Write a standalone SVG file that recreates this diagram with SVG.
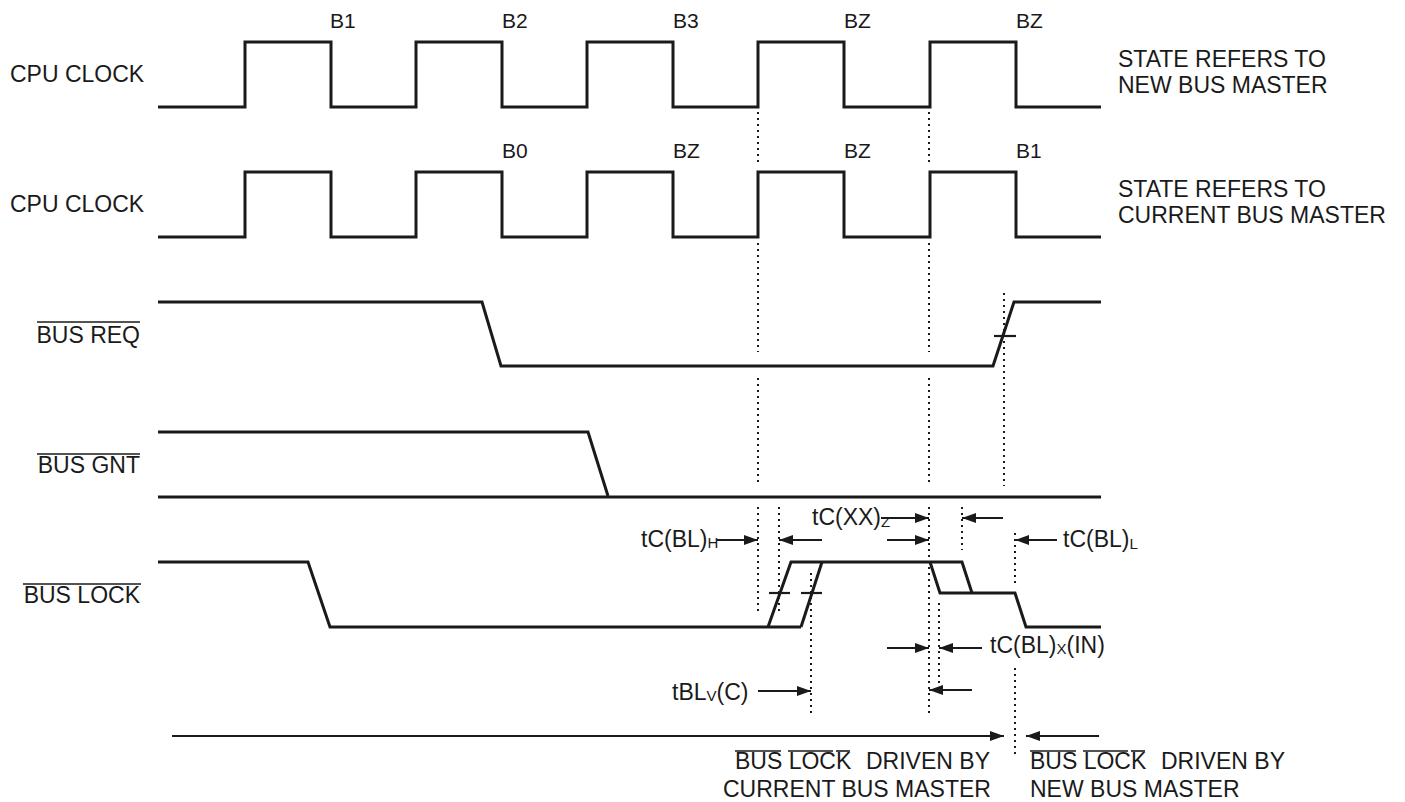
<svg xmlns="http://www.w3.org/2000/svg" width="1405" height="802" viewBox="0 0 1405 802">
<style>
text{font-family:"Liberation Sans",Arial,sans-serif;fill:#1a1a1a}
.lbl{font-size:23px}
.st{font-size:21px}
.sub{font-size:15px}
.sig{fill:none;stroke:#1a1a1a;stroke-width:3;stroke-linejoin:miter}
.dot{fill:none;stroke:#1a1a1a;stroke-width:2;stroke-dasharray:2 4}
.arr{fill:none;stroke:#1a1a1a;stroke-width:2;marker-end:url(#ah)}
.ov{stroke:#1a1a1a;stroke-width:1.6}
.tick{stroke:#1a1a1a;stroke-width:2.2}
</style>
<defs>
<marker id="ah" markerUnits="userSpaceOnUse" markerWidth="15" markerHeight="10" refX="14" refY="5" orient="auto">
<path d="M0,0 L14,5 L0,10 z" fill="#1a1a1a"/>
</marker>
</defs>
<rect width="1405" height="802" fill="#ffffff"/>

<g id="clock1">
<text class="lbl" x="10" y="82">CPU CLOCK</text>
<path class="sig" d="M158,107 H245 V42 H331 V107 H416 V42 H502 V107 H587 V42 H673 V107 H758 V42 H844 V107 H930 V42 H1016 V107 H1101"/>
<text class="st" x="330" y="28">B1</text>
<text class="st" x="502" y="28">B2</text>
<text class="st" x="673" y="28">B3</text>
<text class="st" x="844" y="28">BZ</text>
<text class="st" x="1016" y="28">BZ</text>
<text class="lbl" x="1118" y="67">STATE REFERS TO</text>
<text class="lbl" x="1118" y="93">NEW BUS MASTER</text>
</g>

<g id="clock2">
<text class="lbl" x="10" y="212">CPU CLOCK</text>
<path class="sig" d="M158,237 H245 V172 H331 V237 H416 V172 H502 V237 H587 V172 H673 V237 H758 V172 H844 V237 H930 V172 H1016 V237 H1101"/>
<text class="st" x="502" y="158">B0</text>
<text class="st" x="673" y="158">BZ</text>
<text class="st" x="844" y="158">BZ</text>
<text class="st" x="1016" y="158">B1</text>
<text class="lbl" x="1118" y="197">STATE REFERS TO</text>
<text class="lbl" x="1118" y="223">CURRENT BUS MASTER</text>
</g>

<g id="busreq">
<text class="lbl" x="140" y="343" text-anchor="end">BUS REQ</text>
<line class="ov" x1="37" y1="322" x2="140" y2="322"/>
<path class="sig" d="M158,302 H482 L501,366 H993 L1014,302 H1101"/>
<line class="tick" x1="994" y1="336" x2="1016" y2="336"/>
</g>

<g id="busgnt">
<text class="lbl" x="140" y="473" text-anchor="end">BUS GNT</text>
<line class="ov" x1="37" y1="454" x2="140" y2="454"/>
<path class="sig" d="M158,432 H588 L608,496"/>
<path class="sig" d="M158,497 H1101"/>
</g>

<g id="buslock">
<text class="lbl" x="140" y="603" text-anchor="end">BUS LOCK</text>
<line class="ov" x1="23" y1="584" x2="141" y2="584"/>
<path class="sig" d="M158,562 H308 L330,627 H801"/>
<path class="sig" d="M768,627 L791,562 H962 L972,593"/>
<path class="sig" d="M801,627 L822,562"/>
<path class="sig" d="M930,562 L940,593 H1015 L1026,627 H1101"/>
<line class="tick" x1="769" y1="593" x2="790" y2="593"/>
<line class="tick" x1="801" y1="593" x2="822" y2="593"/>
</g>

<g id="guides">
<path class="dot" d="M758,112 V165 M758,243 V352 M758,378 V485 M758,507 V615"/>
<path class="dot" d="M929,112 V165 M929,243 V352 M929,378 V485 M929,507 V713"/>
<path class="dot" d="M1004,293 V486"/>
<path class="dot" d="M779,507 V615"/>
<path class="dot" d="M811,573 V714"/>
<path class="dot" d="M939,603 V684"/>
<path class="dot" d="M962,507 V550"/>
<path class="dot" d="M1015,533 V584 M1015,668 V758"/>
</g>

<g id="connectors">
<line class="arr" x1="717" y1="540" x2="758" y2="540"/>
<line class="arr" x1="822" y1="540" x2="779" y2="540"/>
<line class="arr" x1="881" y1="518" x2="929" y2="518"/>
<line class="arr" x1="887" y1="540" x2="929" y2="540"/>
<line class="arr" x1="1003" y1="518" x2="962" y2="518"/>
<line class="arr" x1="1057" y1="540" x2="1015" y2="540"/>
<line class="arr" x1="887" y1="648" x2="929" y2="648"/>
<line class="arr" x1="982" y1="648" x2="939" y2="648"/>
<line class="arr" x1="972" y1="690" x2="929" y2="690"/>
<line class="arr" x1="758" y1="691" x2="811" y2="691"/>
<line class="arr" x1="172" y1="736" x2="1004" y2="736"/>
<line class="arr" x1="1099" y1="736" x2="1026" y2="736"/>
</g>

<g id="timing-labels">
<text class="lbl" x="641" y="547">tC(BL)<tspan class="sub" dy="1">H</tspan></text>
<text class="lbl" x="812" y="525">tC(XX)<tspan class="sub" dy="2">Z</tspan></text>
<text class="lbl" x="1063" y="547">tC(BL)<tspan class="sub" dy="2">L</tspan></text>
<text class="lbl" x="990" y="653">tC(BL)<tspan class="sub" dy="1">X</tspan><tspan dy="-1">(IN)</tspan></text>
<text class="lbl" x="672" y="700">tBL<tspan class="sub" dy="1">V</tspan><tspan dy="-1">(C)</tspan></text>
</g>

<g id="bottom-labels">
<text class="lbl" x="735" y="769">BUS LOCK</text>
<text class="lbl" x="866" y="769">DRIVEN BY</text>
<text class="lbl" x="723" y="797">CURRENT BUS MASTER</text>
<line class="ov" x1="735" y1="751" x2="781" y2="751"/>
<line class="ov" x1="788" y1="751" x2="833" y2="751"/>
<line class="ov" x1="836" y1="751" x2="850" y2="751"/>
<text class="lbl" x="1030" y="769">BUS LOCK</text>
<text class="lbl" x="1161" y="769">DRIVEN BY</text>
<text class="lbl" x="1030" y="797">NEW BUS MASTER</text>
<line class="ov" x1="1030" y1="751" x2="1076" y2="751"/>
<line class="ov" x1="1083" y1="751" x2="1128" y2="751"/>
<line class="ov" x1="1131" y1="751" x2="1145" y2="751"/>
</g>
</svg>
